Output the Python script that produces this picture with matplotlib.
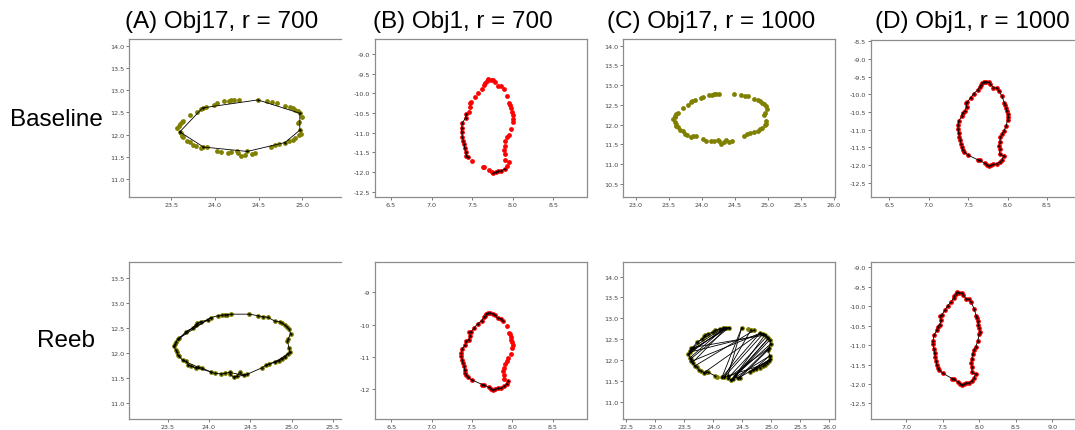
import matplotlib
matplotlib.use("Agg")
import matplotlib.pyplot as plt
from matplotlib.ticker import MultipleLocator, FormatStrFormatter

# ---- point clouds -------------------------------------------------------
obj17_x = [23.57, 23.59, 23.60, 23.62, 23.64, 23.72, 23.80, 23.84, 23.86, 23.90,
           23.99, 24.02, 24.11, 24.16, 24.19, 24.22, 24.27, 24.49, 24.59, 24.65,
           24.71, 24.80, 24.86, 24.89, 24.92, 24.95, 24.97, 24.99, 24.96, 24.95,
           24.97, 24.98, 24.96, 24.92, 24.89, 24.85, 24.80, 24.73, 24.69, 24.64,
           24.46, 24.42, 24.37, 24.34, 24.30, 24.26, 24.25, 24.19, 24.15, 24.07,
           24.02, 23.91, 23.87, 23.84, 23.78, 23.75, 23.72, 23.68, 23.64, 23.62,
           23.61, 23.60]
obj17_y = [12.14, 12.19, 12.23, 12.28, 12.30, 12.43, 12.50, 12.57, 12.60, 12.63,
           12.67, 12.71, 12.75, 12.76, 12.77, 12.77, 12.78, 12.78, 12.75, 12.73,
           12.72, 12.64, 12.63, 12.60, 12.56, 12.52, 12.48, 12.39, 12.29, 12.25,
           12.10, 12.02, 11.99, 11.92, 11.88, 11.85, 11.82, 11.79, 11.76, 11.71,
           11.58, 11.56, 11.62, 11.55, 11.52, 11.58, 11.62, 11.60, 11.59, 11.60,
           11.63, 11.71, 11.72, 11.70, 11.75, 11.76, 11.84, 11.86, 11.94, 11.97,
           12.03, 12.06]

obj1_x = [7.70, 7.73, 7.76, 7.78, 7.82, 7.86, 7.89, 7.93, 7.96, 7.97,
          7.98, 7.99, 8.00, 8.01, 8.00, 7.98, 7.95, 7.93, 7.91, 7.90,
          7.89, 7.90, 7.90, 7.95, 7.93, 7.90, 7.86, 7.82, 7.79, 7.76,
          7.74, 7.71, 7.65, 7.63, 7.50, 7.45, 7.43, 7.42, 7.41, 7.40,
          7.39, 7.38, 7.37, 7.37, 7.38, 7.42, 7.43, 7.46, 7.48, 7.47,
          7.49, 7.53, 7.57, 7.62, 7.65, 7.66, 7.68]
obj1_y = [-9.64, -9.65, -9.66, -9.70, -9.81, -9.82, -9.90, -10.06, -10.25, -10.30,
          -10.38, -10.48, -10.55, -10.65, -10.72, -10.90, -11.05, -11.12, -11.22, -11.35,
          -11.45, -11.55, -11.70, -11.74, -11.85, -11.92, -11.97, -11.98, -12.00, -12.03,
          -11.99, -11.95, -11.87, -11.86, -11.72, -11.63, -11.58, -11.50, -11.40, -11.30,
          -11.20, -11.10, -10.98, -10.88, -10.75, -10.62, -10.52, -10.47, -10.35, -10.24,
          -10.22, -10.10, -9.98, -9.88, -9.78, -9.74, -9.68]

# ---- recovered paths (indices into the point clouds) --------------------
base_a_paths = [[61, 8, 17, 26, 30, 36, 42, 52, 61]]
base_b_paths = [list(range(46, 34, -1)), [29, 28, 27, 26, 25]]
base_c_paths = []
base_d_paths = [list(range(len(obj1_x))) + [0]]

reeb_a_paths = [list(range(len(obj17_x))) + [0],
                [4, 11], [5, 10], [3, 9], [33, 38], [36, 31], [41, 46], [44, 40],
                [55, 50], [57, 52]]
reeb_b_paths = [[6, 5, 4, 3, 2, 1, 0] + list(range(56, 22, -1))]
reeb_c_paths = [list(range(50, 62)) + list(range(0, 17)),
                list(range(21, 40)), list(range(40, 49)),
                [0, 14], [1, 15], [2, 16], [3, 13], [5, 12], [60, 16], [58, 15],
                [61, 14], [1, 22], [59, 21], [4, 23], [57, 20],
                [24, 45], [25, 44], [26, 43], [27, 42], [28, 41], [29, 40],
                [30, 39], [31, 38], [32, 37], [33, 46], [22, 47], [21, 48],
                [23, 42], [28, 45], [30, 44], [31, 41], [17, 48], [17, 46],
                [53, 21], [19, 47], [25, 43]]
reeb_d_paths = [list(range(len(obj1_x))) + [0]]

titles = ["(A) Obj17, r = 700", "(B) Obj1, r = 700",
          "(C) Obj17, r = 1000", "(D) Obj1, r = 1000"]
row_labels = ["Baseline", "Reeb"]

W, H = 1075, 431
fig = plt.figure(figsize=(W / 100, H / 100), dpi=100)
fig.patch.set_facecolor("white")


def add_panel(left, right, top, bottom, xlim, ylim, pts, color, paths,
              xstep=0.5, ystep=0.5, yfmt="%.1f", cropped=False):
    ax = fig.add_axes([left / W, 1 - bottom / H, (right - left) / W, (bottom - top) / H])
    xs, ys = pts
    ax.scatter(xs, ys, s=12, color=color, linewidths=0, zorder=2)
    for p in paths:
        ax.plot([xs[i] for i in p], [ys[i] for i in p], color="black", lw=0.6,
                marker=".", markersize=1.2, zorder=3)
    ax.set_xlim(*xlim)
    ax.set_ylim(*ylim)
    ax.xaxis.set_major_locator(MultipleLocator(xstep))
    ax.yaxis.set_major_locator(MultipleLocator(ystep))
    ax.xaxis.set_major_formatter(FormatStrFormatter("%.1f"))
    ax.yaxis.set_major_formatter(FormatStrFormatter(yfmt))
    ax.tick_params(labelsize=4.6, length=2, width=0.5, pad=1.5,
                   colors="#444444")
    for s in ax.spines.values():
        s.set_color("#8c8c8c")
        s.set_linewidth(0.9)
    if cropped:
        ax.spines["right"].set_visible(False)
    return ax


o17 = (obj17_x, obj17_y)
o1 = (obj1_x, obj1_y)
olive = "#808000"
red = "#ff0000"

# top row: baseline
add_panel(129, 341, 40, 198, (23.02, 25.44), (10.595, 14.15), o17, olive, base_a_paths, cropped=True)
add_panel(375, 587, 40, 198, (6.303, 8.916), (-12.635, -8.618), o1, red, base_b_paths)
add_panel(623, 835, 40, 198, (22.81, 26.02), (10.17, 14.17), o17, olive, base_c_paths)
add_panel(871, 1075, 41, 198, (6.268, 8.855), (-12.905, -8.463), o1, red, base_d_paths, cropped=True)

# bottom row: reeb
add_panel(129, 341, 263, 420, (23.03, 25.6), (10.69, 13.82), o17, olive, reeb_a_paths, cropped=True)
add_panel(375, 587, 263, 420, (6.30, 8.925), (-12.93, -8.06), o1, red, reeb_b_paths,
          ystep=1.0, yfmt="%d")
add_panel(623, 835, 263, 420, (22.44, 26.10), (10.59, 14.35), o17, olive, reeb_c_paths)
add_panel(871, 1075, 263, 420, (6.52, 9.31), (-12.90, -8.86), o1, red, reeb_d_paths, cropped=True)

title_x = [222, 463, 711, 972]
for tx, t in zip(title_x, titles):
    fig.text(tx / W, 1 - 22 / H, t, ha="center", va="center",
             fontsize=17.5, family="Liberation Sans")

fig.text(56 / W, 1 - 120 / H, row_labels[0], ha="center", va="center",
         fontsize=17.5, family="Liberation Sans")
fig.text(66 / W, 1 - 341 / H, row_labels[1], ha="center", va="center",
         fontsize=17.5, family="Liberation Sans")

fig.savefig("out.png", dpi=100, facecolor="white")
